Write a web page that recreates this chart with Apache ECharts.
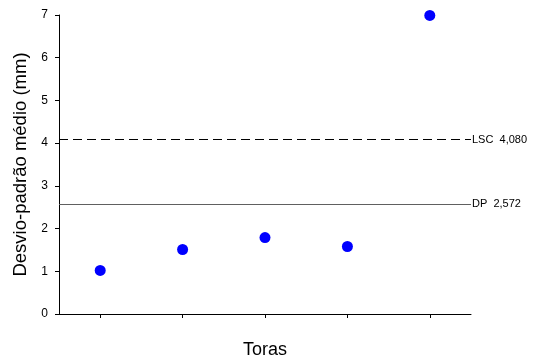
<!DOCTYPE html>
<html><head><meta charset="utf-8">
<script src="https://cdn.jsdelivr.net/npm/echarts@6/dist/echarts.min.js"></script>
<style>html,body{margin:0;padding:0;background:#fff}#c{width:548px;height:359px}</style>
</head><body><div id="c"></div>
<script>
const categories = ['1', '2', '3', '4', '5'];
const values = [1.02, 1.51, 1.79, 1.58, 6.99];
const yTicks = [0, 1, 2, 3, 4, 5, 6, 7];
const lscValue = 4.080;
const dpValue = 2.572;
const lscLabel = 'LSC  4,080';
const dpLabel = 'DP  2,572';

const chart = echarts.init(document.getElementById('c'));
chart.setOption({
  animation: false,
  grid: { left: 59, top: 15, right: 77, bottom: 45, containLabel: false, outerBoundsMode: 'none' },
  xAxis: {
    type: 'category', data: categories, boundaryGap: true,
    name: 'Toras', nameLocation: 'middle', nameGap: 27,
    nameTextStyle: { fontFamily: 'Liberation Sans', fontSize: 18, color: '#000' },
    axisLine: { lineStyle: { color: '#000', width: 1 } },
    axisTick: { show: true, alignWithLabel: true, length: 4, lineStyle: { color: '#000' } },
    axisLabel: { show: false },
    splitLine: { show: false }
  },
  yAxis: {
    type: 'value', min: yTicks[0], max: yTicks[yTicks.length - 1], interval: 1,
    name: 'Desvio-padrão médio (mm)', nameLocation: 'middle', nameGap: 22,
    nameTextStyle: { fontFamily: 'Liberation Sans', fontSize: 18.5, color: '#000' },
    axisLine: { show: true, lineStyle: { color: '#000', width: 1 } },
    axisTick: { show: true, length: 4, lineStyle: { color: '#000' } },
    axisLabel: { fontFamily: 'Liberation Sans', fontSize: 12, color: '#000', margin: 11 },
    splitLine: { show: false }
  },
  series: [{
    type: 'scatter', data: values, symbolSize: 11,
    itemStyle: { color: '#0000ff', opacity: 1 },
    markLine: {
      silent: true, symbol: 'none',
      label: { position: 'end', fontFamily: 'Liberation Sans', fontSize: 11, color: '#000', distance: 1 },
      data: [
        { yAxis: lscValue, label: { formatter: lscLabel }, lineStyle: { type: [9, 5], color: '#000', width: 1 } },
        { yAxis: dpValue, label: { formatter: dpLabel }, lineStyle: { type: 'solid', color: '#606060', width: 1 } }
      ]
    }
  }]
});
</script></body></html>
